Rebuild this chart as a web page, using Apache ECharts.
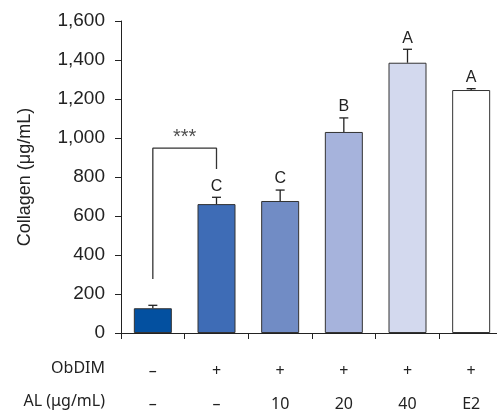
<!DOCTYPE html>
<html>
<head>
<meta charset="utf-8">
<script src="https://cdn.jsdelivr.net/npm/echarts@6/dist/echarts.min.js"></script>
<style>
  html, body { margin: 0; padding: 0; background: #fff; }
  #chart { width: 497px; height: 412px; }
</style>
</head>
<body>
<div id="chart"></div>
<script>
////--------------------------------------------------------------------////
const obdim_row  = ['–', '+', '+', '+', '+', '+'];
const al_row     = ['–', '–', '10', '20', '40', 'E2'];
const collagen   = [127, 661, 677, 1031, 1386, 1246];
const err_upper  = [15, 35, 56, 72, 69, 7];
const letters    = ['', 'C', 'C', 'B', 'A', 'A'];
const bar_colors = ['#0350a0', '#3e6cb6', '#718cc5', '#a6b3dc', '#d3d9ee', '#ffffff'];
const y_ticks    = [0, 200, 400, 600, 800, 1000, 1200, 1400, 1600];
// significance bracket between group 0 and 1
const bracket    = [[0, 277], [0, 948], [1, 948], [1, 841]];
const bracket_mark = '***';
////--------------------------------------------------------------------////
const ink = '#222';
const num_font = 'Liberation Sans';
const row_font = 'Noto Sans';

const chart = echarts.init(document.getElementById('chart'), null, {renderer: 'canvas'});

const err_data = collagen.map((v, i) => [i, v, v + err_upper[i], letters[i]]);

const option = {
    animation: false,
    grid: {left: 121, top: 21, width: 382, bottom: 79, containLabel: false, outerBoundsMode: 'none'},
    xAxis: [
        {
            type: 'category',
            data: obdim_row.map((v, i) => i),
            boundaryGap: true,
            axisLine: {show: true, onZero: false, lineStyle: {color: ink, width: 1}},
            axisTick: {show: true, length: 6, lineStyle: {color: ink}},
            axisLabel: {
                margin: 22,
                fontFamily: row_font,
                fontSize: 16,
                color: ink,
                lineHeight: 33,
                formatter: (v, i) => obdim_row[i] + '\n' + al_row[i]
            }
        },
        {type: 'value', min: -0.5, max: 5.5, show: false}
    ],
    yAxis: {
        type: 'value',
        min: y_ticks[0],
        max: y_ticks[y_ticks.length - 1],
        interval: 200,
        name: 'Collagen (μg/mL)',
        nameLocation: 'middle',
        nameGap: 87,
        nameTextStyle: {fontFamily: num_font, fontSize: 18, color: ink},
        axisLine: {show: true, onZero: false, lineStyle: {color: ink, width: 1}},
        axisTick: {show: true, length: 6, lineStyle: {color: ink}},
        splitLine: {show: false},
        axisLabel: {
            margin: 16,
            fontFamily: num_font,
            fontSize: 19,
            color: ink,
            formatter: v => v.toLocaleString('en-US')
        }
    },
    series: [
        {
            type: 'bar',
            barWidth: 38,
            data: collagen.map((v, i) => ({
                value: v,
                itemStyle: {color: bar_colors[i], borderColor: '#333', borderWidth: 1}
            }))
        },
        {
            type: 'custom',
            data: err_data,
            z: 5,
            renderItem: function (params, api) {
                const base = api.coord([api.value(0), api.value(1)]);
                const top  = api.coord([api.value(0), api.value(2)]);
                const half = 4.5;
                const style = {stroke: '#222', lineWidth: 1.3};
                return {
                    type: 'group',
                    children: [
                        {type: 'line', shape: {x1: top[0], y1: base[1], x2: top[0], y2: top[1]}, style: style},
                        {type: 'line', shape: {x1: top[0] - half, y1: top[1], x2: top[0] + half, y2: top[1]}, style: style},
                        {
                            type: 'text',
                            style: {
                                text: letters[params.dataIndex],
                                x: top[0], y: top[1] - 3,
                                align: 'center', verticalAlign: 'bottom',
                                font: '16px "' + num_font + '"',
                                fill: ink
                            }
                        }
                    ]
                };
            }
        },
        {
            type: 'line',
            xAxisIndex: 1,
            data: bracket,
            symbol: 'none',
            lineStyle: {color: '#333', width: 1.3},
            z: 6
        },
        {
            type: 'scatter',
            xAxisIndex: 1,
            data: [[(bracket[0][0] + bracket[2][0]) / 2, bracket[1][1]]],
            symbolSize: 0,
            label: {
                show: true,
                position: 'top',
                distance: 1,
                formatter: bracket_mark,
                fontFamily: num_font,
                fontSize: 20,
                color: ink
            }
        }
    ],
    graphic: [
        {type: 'text', right: 497 - 105, top: 360,
         style: {text: 'ObDIM', font: '16px "' + row_font + '"', fill: ink}},
        {type: 'text', right: 497 - 105, top: 393,
         style: {text: 'AL (μg/mL)', font: '16px "' + row_font + '"', fill: ink}}
    ]
};
chart.setOption(option);
window.addEventListener('resize', chart.resize);
</script>
</body>
</html>
